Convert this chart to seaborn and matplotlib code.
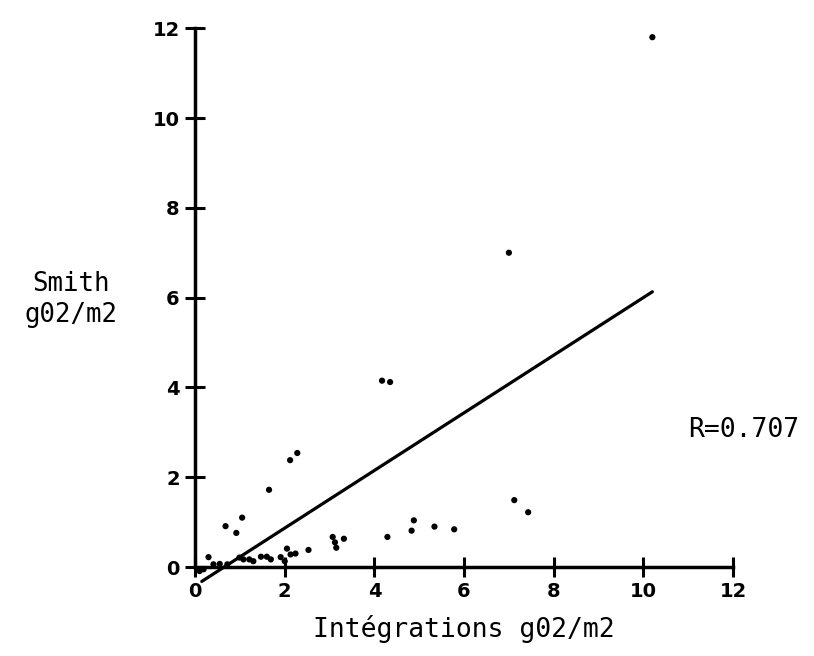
import numpy as np
import pandas as pd
import matplotlib
matplotlib.use("Agg")
import matplotlib.pyplot as plt
import seaborn as sns

# Data (Integrations vs Smith, gO2/m2)
integrations = [0.10, 0.19, 0.30, 0.41, 0.55, 0.72, 0.68, 0.92, 0.99, 1.05,
                1.08, 1.21, 1.30, 1.47, 1.60, 1.65, 1.69, 1.91, 2.00, 2.05,
                2.13, 2.24, 2.12, 2.28, 2.53, 3.07, 3.12, 3.15, 3.32, 4.17,
                4.35, 4.29, 4.83, 4.88, 5.34, 5.78, 7.00, 7.12, 7.43, 10.20]
smith = [-0.09, -0.05, 0.22, 0.06, 0.07, 0.06, 0.91, 0.76, 0.21, 1.10,
         0.17, 0.17, 0.13, 0.23, 0.23, 1.72, 0.17, 0.22, 0.13, 0.41,
         0.28, 0.30, 2.38, 2.54, 0.38, 0.67, 0.55, 0.43, 0.63, 4.15,
         4.12, 0.67, 0.81, 1.04, 0.90, 0.84, 7.00, 1.49, 1.22, 11.80]

# regression line end points as drawn on the figure
fit_x = [0.15, 10.2]
fit_y = [-0.32, 6.13]

ticks = [0, 2, 4, 6, 8, 10, 12]
r_label = "R=0.707"

df = pd.DataFrame({"integrations": integrations, "smith": smith})
fit = pd.DataFrame({"x": fit_x, "y": fit_y})

sns.set_style("white", {"axes.edgecolor": "black", "text.color": "black",
                        "xtick.color": "black", "ytick.color": "black",
                        "xtick.bottom": True, "ytick.left": True})
plt.rcParams["font.family"] = ["DejaVu Sans Mono", "DejaVu Sans"]

fig = plt.figure(figsize=(8.14, 6.56), dpi=100)
ax = fig.add_axes([0.2121, 0.1014, 0.716, 0.8898])

sns.lineplot(data=fit, x="x", y="y", color="black", linewidth=2.3, ax=ax)
sns.scatterplot(data=df, x="integrations", y="smith", color="black",
                s=20, edgecolor="none", ax=ax)

ax.set_xlim(-0.5, 12.5)
ax.set_ylim(-0.5, 12.5)

# axes drawn through the origin, crossed ticks like the plotter output
for side in ["top", "right"]:
    ax.spines[side].set_visible(False)
ax.spines["left"].set_position(("data", 0))
ax.spines["bottom"].set_position(("data", 0))
ax.spines["left"].set_bounds(0, 12)
ax.spines["bottom"].set_bounds(0, 12)
for side in ["left", "bottom"]:
    ax.spines[side].set_linewidth(2.5)

ax.set_xticks(ticks)
ax.set_yticks(ticks)
ax.set_xticklabels([str(t) for t in ticks], fontweight="bold", fontsize=14,
                   family="DejaVu Sans")
ax.set_yticklabels([str(t) for t in ticks], fontweight="bold", fontsize=14,
                   family="DejaVu Sans")
ax.tick_params(direction="inout", length=14, width=2.2, pad=4,
               bottom=True, left=True)

ax.set_xlabel("")
ax.set_ylabel("")
fig.text(0.087, 0.544, "Smith\ng02/m2", ha="center", va="center",
         fontsize=18.5, linespacing=1.25)
ax.text(6.0, -1.38, "Intégrations g02/m2", ha="center", va="center",
        fontsize=19)
ax.text(11.0, 3.05, r_label, ha="left", va="center", fontsize=19,
        clip_on=False)

plt.savefig("out.png", dpi=100)
